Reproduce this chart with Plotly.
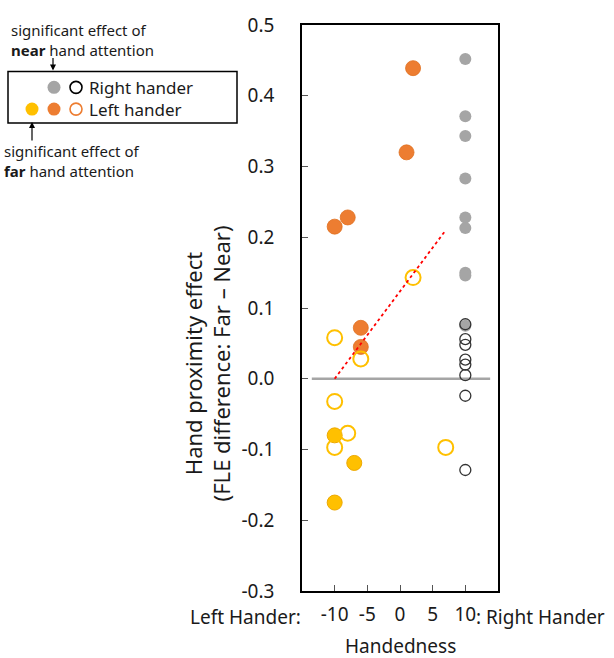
import plotly.graph_objects as go

FONT = "Noto Sans"

# ---- data ----
right_near_x = [10, 10, 10, 10, 10, 10, 10, 10, 10]
right_near_y = [0.452, 0.371, 0.343, 0.283, 0.228, 0.213, 0.150, 0.146, 0.075]

right_ns_x = [10, 10, 10, 10, 10, 10, 10, 10]
right_ns_y = [0.077, 0.056, 0.048, 0.027, 0.020, 0.005, -0.024, -0.129]

left_near_x = [2, 1, -10, -8, -6, -6]
left_near_y = [0.439, 0.320, 0.215, 0.228, 0.072, 0.045]

left_ns_x = [2, -10, -6, -10, -8, -10, 7]
left_ns_y = [0.143, 0.058, 0.028, -0.032, -0.077, -0.097, -0.097]

left_far_x = [-10, -7, -10]
left_far_y = [-0.080, -0.119, -0.175]

fit_x = [-10, 7]
fit_y = [0.0, 0.21]

zero_x = [-13.5, 13.8]
zero_y = [0.0, 0.0]

x_ticks = [-10, -5, 0, 5, 10]
x_ticktext = ["-10", "-5", "0", "5", "10"]
y_ticks = [-0.3, -0.2, -0.1, 0.0, 0.1, 0.2, 0.3, 0.4, 0.5]
y_ticktext = ["-0.3", "-0.2", "-0.1", "0.0", "0.1", "0.2", "0.3", "0.4", "0.5"]

ORANGE = "#ED7D31"
GOLD = "#FFC000"
GRAY = "#A5A5A5"
TXT = "#1a1a1a"

fig = go.Figure()

fig.add_trace(go.Scatter(x=zero_x, y=zero_y, mode="lines",
                         line=dict(color=GRAY, width=2.5), hoverinfo="skip"))
fig.add_trace(go.Scatter(x=right_near_x, y=right_near_y, mode="markers",
                         marker=dict(size=12, color=GRAY, line=dict(width=0))))
fig.add_trace(go.Scatter(x=right_ns_x, y=right_ns_y, mode="markers",
                         marker=dict(size=11, color="rgba(0,0,0,0)",
                                     line=dict(width=1.3, color="#333333"))))
fig.add_trace(go.Scatter(x=left_near_x, y=left_near_y, mode="markers",
                         marker=dict(size=15, color=ORANGE, line=dict(width=0.8, color="#E07020"))))
fig.add_trace(go.Scatter(x=left_far_x, y=left_far_y, mode="markers",
                         marker=dict(size=15, color=GOLD, line=dict(width=1, color="#EDA800"))))
fig.add_trace(go.Scatter(x=left_ns_x, y=left_ns_y, mode="markers",
                         marker=dict(size=15, color="rgba(0,0,0,0)",
                                     line=dict(width=2, color=GOLD))))
fig.add_trace(go.Scatter(x=fit_x, y=fit_y, mode="lines",
                         line=dict(color="#FF0000", width=1.8, dash="dot")))

# plot area in pixels
L, R, T, B = 302, 498, 19, 591
W, H = 614, 658


def px(p):
    return (p - L) / (R - L)


def py(p):
    return (B - p) / (B - T)


shapes = []
# legend box
shapes.append(dict(type="rect", xref="paper", yref="paper",
                   x0=px(8), x1=px(237), y0=py(118), y1=py(66),
                   line=dict(color="black", width=1.5), fillcolor="rgba(0,0,0,0)"))


def circ(cx, cy, d, fill, line_color, lw):
    return dict(type="circle", xref="paper", yref="paper",
                xsizemode="pixel", ysizemode="pixel",
                xanchor=px(cx), yanchor=py(cy),
                x0=-d / 2, x1=d / 2, y0=-d / 2, y1=d / 2,
                fillcolor=fill, line=dict(color=line_color, width=lw))


shapes.append(circ(54, 82, 13, GRAY, GRAY, 0))
shapes.append(circ(76, 82, 12, "rgba(0,0,0,0)", "black", 1.6))
shapes.append(circ(32, 104, 13, GOLD, GOLD, 0))
shapes.append(circ(54, 104, 13, ORANGE, ORANGE, 0))
shapes.append(circ(76, 104, 12, "rgba(0,0,0,0)", ORANGE, 1.6))

annotations = []


def ann(text, x, y, size, xanchor="left", yanchor="middle", **kw):
    annotations.append(dict(text=text, xref="paper", yref="paper",
                            x=px(x), y=py(y), xanchor=xanchor, yanchor=yanchor,
                            showarrow=False, font=dict(family=FONT, size=size, color=TXT),
                            **kw))


ann("Right hander<br>Left hander", 87, 93, 17, align="left")
ann("significant effect of<br><b>near</b> hand attention", 9, 34, 15, align="left")
ann("significant effect of<br><b>far</b> hand attention", 2, 156, 15, align="left")

# arrows (tail offsets in pixels)
annotations.append(dict(xref="paper", yref="paper",
                        x=px(53), y=py(65), ax=0, ay=-14, text="",
                        showarrow=True, arrowhead=2, arrowsize=1, arrowwidth=1.2,
                        arrowcolor="black"))
annotations.append(dict(xref="paper", yref="paper",
                        x=px(32), y=py(117), ax=0, ay=20, text="",
                        showarrow=True, arrowhead=2, arrowsize=1, arrowwidth=1.2,
                        arrowcolor="black"))

# axis word labels
ann("Left Hander:", 303, 617, 19, xanchor="right")
ann(": Right Hander", 474, 617, 19, xanchor="left")
ann("Handedness", 400, 647, 19, xanchor="center")
ann("Hand proximity effect<br>(FLE difference: Far – Near)", 207, 361, 22,
    xanchor="center", textangle=-90)

fig.update_layout(
    width=W, height=H,
    margin=dict(l=L, r=W - R, t=T, b=H - B),
    paper_bgcolor="white", plot_bgcolor="white",
    showlegend=False,
    font=dict(family=FONT, size=19, color=TXT),
    shapes=shapes, annotations=annotations,
    xaxis=dict(range=[-15, 15], tickvals=x_ticks, ticktext=x_ticktext,
               ticks="inside", ticklen=6, tickcolor="#555555",
               showline=True, linecolor="black", linewidth=1.5, mirror=True,
               showgrid=False, zeroline=False, ticklabelstandoff=5,
               tickfont=dict(family=FONT, size=19, color=TXT)),
    yaxis=dict(range=[-0.3, 0.5], tickvals=y_ticks, ticktext=y_ticktext,
               ticks="inside", ticklen=6, tickcolor="#555555",
               showline=True, linecolor="black", linewidth=1.5, mirror=True,
               showgrid=False, zeroline=False, ticklabelstandoff=22,
               tickfont=dict(family=FONT, size=19, color=TXT)),
)

fig.write_html("out.html")
